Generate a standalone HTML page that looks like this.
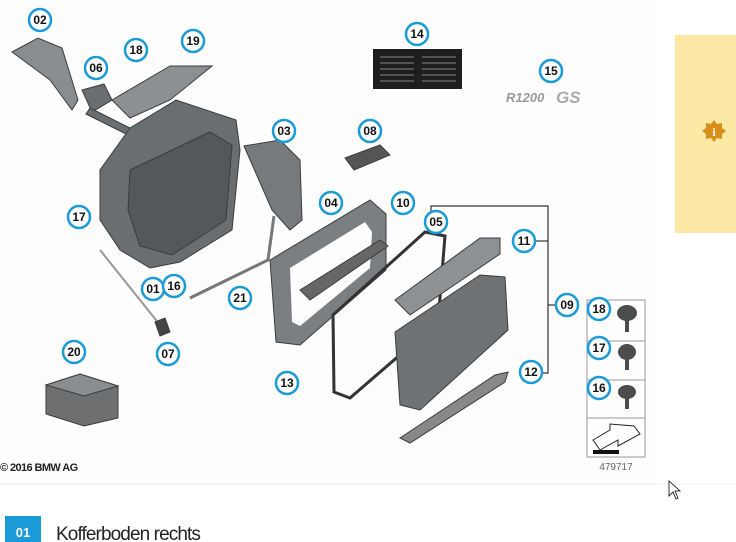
<!DOCTYPE html>
<html><head><meta charset="utf-8"><style>
html,body{margin:0;padding:0;background:#fff;width:736px;height:542px;overflow:hidden;font-family:"Liberation Sans",sans-serif}
</style></head><body>
<svg width="736" height="542" viewBox="0 0 736 542" xmlns="http://www.w3.org/2000/svg" style="position:absolute;left:0;top:0">
<rect x="0" y="0" width="736" height="542" fill="#fff"/>
<rect x="0" y="0" width="652" height="484" fill="#fdfdfd"/>
<line x1="0" y1="484" x2="736" y2="484" stroke="#ececec"/>
<rect x="675" y="35" width="61" height="198" fill="#fde9a6"/>
<polygon points="714,120 717,124 722,123 722,128 726,131 722,134 722,139 717,138 714,142 711,138 706,139 706,134 702,131 706,128 706,123 711,124" fill="#d9901a"/>
<text x="714" y="136" font-size="12" font-weight="bold" fill="#fff" text-anchor="middle" font-family="Liberation Serif,serif">i</text>

<g fill="#6b6e70" stroke="#3a3c3e" stroke-width="1">
<path d="M12 52 L38 38 L62 48 L78 100 L72 110 L50 80 Z" fill="#8a8d8f"/>
<path d="M82 90 L104 84 L112 100 L92 112 Z"/>
<path d="M90 108 L130 128 L126 134 L86 114 Z"/>
<path d="M112 100 L170 66 L212 66 L170 100 L130 118 Z" fill="#8d9092"/>
<path d="M100 170 L130 128 L176 100 L236 120 L240 150 L232 230 L180 262 L150 268 L120 250 L100 220 Z"/>
<path d="M130 170 L210 132 L232 145 L226 220 L172 255 L140 246 L128 210 Z" fill="#55585a"/>
<path d="M244 146 L280 140 L300 160 L302 220 L290 230 L272 210 Z" fill="#777a7c"/>
<path d="M190 298 L268 260 L274 216" fill="none" stroke="#777" stroke-width="3"/>
<line x1="100" y1="250" x2="160" y2="325" stroke="#999" stroke-width="2"/>
<path d="M155 322 L165 318 L170 332 L160 336 Z" fill="#444"/>
<path d="M345 158 L380 145 L390 155 L354 170 Z" fill="#555"/>
<path d="M270 260 L370 200 L386 214 L386 270 L300 345 L276 342 Z" fill="#7c7f81"/>
<path d="M290 268 L365 222 L372 232 L370 268 L300 326 L292 322 Z" fill="#fdfdfd" stroke="none"/>
<path d="M300 290 L380 240 L388 246 L310 300 Z" fill="#666"/>
<path d="M333 315 L425 232 L445 236 L438 322 L350 398 L334 392 Z" fill="none" stroke="#333" stroke-width="3"/>
<path d="M395 300 L480 238 L500 238 L500 254 L410 315 Z" fill="#8e9193"/>
<path d="M395 332 L480 275 L505 277 L508 330 L420 410 L400 405 Z" fill="#6f7274"/>
<path d="M400 438 L495 375 L508 372 L505 382 L410 443 Z" fill="#888"/>
<path d="M46 385 L80 374 L118 386 L118 418 L84 426 L46 414 Z" fill="#6d6f71"/>
<path d="M46 385 L80 374 L118 386 L84 396 Z" fill="#8a8d8f"/>
</g>

<rect x="373" y="49" width="89" height="40" fill="#1e1e1e"/>
<g stroke="#888" stroke-width="1">
<line x1="380" y1="57" x2="414" y2="57"/><line x1="380" y1="63" x2="414" y2="63"/><line x1="380" y1="69" x2="414" y2="69"/><line x1="380" y1="75" x2="414" y2="75"/><line x1="380" y1="81" x2="414" y2="81"/>
<line x1="422" y1="57" x2="456" y2="57"/><line x1="422" y1="63" x2="456" y2="63"/><line x1="422" y1="69" x2="456" y2="69"/><line x1="422" y1="75" x2="456" y2="75"/><line x1="422" y1="81" x2="456" y2="81"/>
</g>
<text x="506" y="102" font-size="13" font-style="italic" font-weight="bold" fill="#999">R1200</text>
<text x="556" y="103" font-size="17" font-style="italic" font-weight="bold" fill="#aaa">GS</text>

<g stroke="#333" stroke-width="1.2" fill="none">
<path d="M431 213 L431 206 L548 206 L548 373 L520 373"/>
<line x1="536" y1="241" x2="548" y2="241"/>
<line x1="548" y1="305" x2="556" y2="305"/>
</g>
<g stroke="#999" fill="none">
<rect x="587" y="300" width="58" height="157"/>
<line x1="587" y1="341" x2="645" y2="341"/>
<line x1="587" y1="380" x2="645" y2="380"/>
<line x1="587" y1="418" x2="645" y2="418"/>
</g>
<g fill="#4a4c4e">
<ellipse cx="627" cy="313" rx="10" ry="8"/><rect x="625" y="318" width="4" height="14"/>
<ellipse cx="627" cy="352" rx="9" ry="8"/><rect x="625" y="357" width="4" height="13"/>
<ellipse cx="627" cy="392" rx="9" ry="7"/><rect x="625" y="396" width="4" height="13"/>
</g>
<path d="M593 440 L610 430 L610 424 L634 426 L640 434 L618 446 L618 440 L600 450 Z" fill="#fff" stroke="#222"/>
<rect x="593" y="450" width="26" height="4" fill="#111"/>
<text x="616" y="470" font-size="10" fill="#666" text-anchor="middle">479717</text>

<text x="0" y="471" font-size="11" font-weight="bold" fill="#222" letter-spacing="-0.6">© 2016 BMW AG</text>

<g font-size="12" font-weight="bold" text-anchor="middle" fill="#111">
<g fill="#fff" stroke="#1b9ad8" stroke-width="2.5">
<circle cx="40" cy="20" r="11"/><circle cx="96" cy="68" r="11"/><circle cx="136" cy="50" r="11"/><circle cx="193" cy="41" r="11"/>
<circle cx="417" cy="34" r="11"/><circle cx="551" cy="71" r="11"/><circle cx="284" cy="131" r="11"/><circle cx="370" cy="131" r="11"/>
<circle cx="331" cy="203" r="11"/><circle cx="403" cy="203" r="11"/><circle cx="436" cy="222" r="11"/><circle cx="524" cy="241" r="11"/>
<circle cx="79" cy="217" r="11"/><circle cx="153" cy="289" r="11"/><circle cx="174" cy="286" r="11"/><circle cx="240" cy="298" r="11"/>
<circle cx="567" cy="305" r="11"/><circle cx="599" cy="309" r="11"/><circle cx="599" cy="348" r="11"/><circle cx="599" cy="388" r="11"/>
<circle cx="74" cy="352" r="11"/><circle cx="168" cy="354" r="11"/><circle cx="287" cy="383" r="11"/><circle cx="531" cy="372" r="11"/>
</g>
<text x="40" y="24">02</text><text x="96" y="72">06</text><text x="136" y="54">18</text><text x="193" y="45">19</text>
<text x="417" y="38">14</text><text x="551" y="75">15</text><text x="284" y="135">03</text><text x="370" y="135">08</text>
<text x="331" y="207">04</text><text x="403" y="207">10</text><text x="436" y="226">05</text><text x="524" y="245">11</text>
<text x="79" y="221">17</text><text x="153" y="293">01</text><text x="174" y="290">16</text><text x="240" y="302">21</text>
<text x="567" y="309">09</text><text x="599" y="313">18</text><text x="599" y="352">17</text><text x="599" y="392">16</text>
<text x="74" y="356">20</text><text x="168" y="358">07</text><text x="287" y="387">13</text><text x="531" y="376">12</text>
</g>

<path d="M669 481 L669 496 L673 492 L676 499 L678 498 L675 491 L680 491 Z" fill="#fff" stroke="#000" stroke-width="0.8"/>

<rect x="5" y="516" width="36" height="26" fill="#1b9ad8"/>
<text x="23" y="537" font-size="13" font-weight="bold" fill="#fff" text-anchor="middle">01</text>
<text x="56" y="540" font-size="19" fill="#222" letter-spacing="-0.9">Kofferboden rechts</text>
</svg>
</body></html>
